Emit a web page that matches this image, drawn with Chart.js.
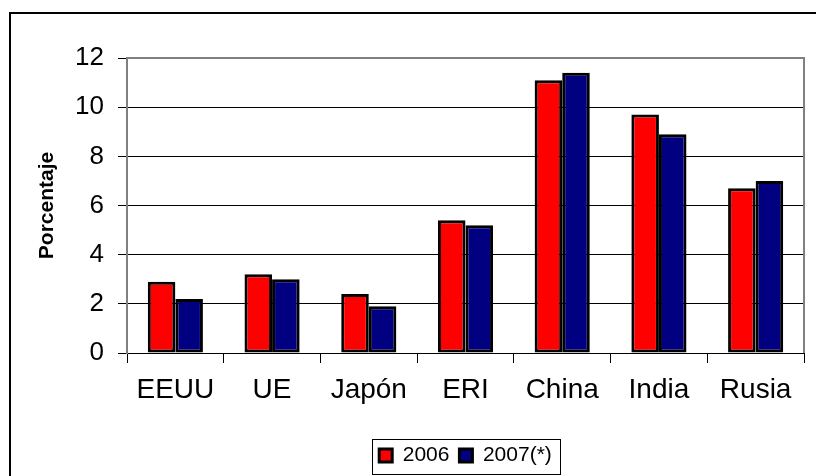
<!DOCTYPE html>
<html>
<head>
<meta charset="utf-8">
<script src="https://cdn.jsdelivr.net/npm/chart.js@4/dist/chart.umd.min.js"></script>
<style>
  html, body { margin: 0; padding: 0; background: #fff; }
  canvas { display: block; }
</style>
</head>
<body>
<canvas id="chart" width="816" height="476"></canvas>
<script>
const categories = ["EEUU", "UE", "Japón", "ERI", "China", "India", "Rusia"];
const values2006 = [2.9, 3.2, 2.4, 5.4, 11.1, 9.7, 6.7];
const values2007 = [2.2, 3.0, 1.9, 5.2, 11.4, 8.9, 7.0];
const seriesLabels = ["2006", "2007(*)"];
const yTicks = [0, 2, 4, 6, 8, 10, 12];

const FONT = "'Liberation Sans', Arial, sans-serif";

// outer frame, plot border and legend box (Excel look)
const framePlugin = {
  id: 'frame',
  beforeDraw(chart) {
    const ctx = chart.ctx;
    ctx.save();
    ctx.fillStyle = '#fff';
    ctx.fillRect(0, 0, chart.width, chart.height);
    ctx.strokeStyle = '#000';
    ctx.lineWidth = 2;
    ctx.beginPath();
    ctx.moveTo(10, chart.height);
    ctx.lineTo(10, 13);
    ctx.lineTo(chart.width, 13);
    ctx.stroke();
    ctx.restore();
  },
  afterDraw(chart) {
    const ctx = chart.ctx;
    const a = chart.chartArea;
    ctx.save();
    ctx.strokeStyle = '#808080';
    ctx.lineWidth = 2;
    ctx.beginPath();
    ctx.moveTo(a.left, a.top);
    ctx.lineTo(a.right, a.top);
    ctx.lineTo(a.right, a.bottom);
    ctx.stroke();
    const lg = chart.legend;
    const hb = lg.legendHitBoxes;
    if (hb && hb.length) {
      const l = hb[0].left - 7;
      const r = hb[hb.length - 1].left + hb[hb.length - 1].width + 8;
      ctx.strokeStyle = '#000';
      ctx.lineWidth = 1;
      ctx.strokeRect(Math.round(l) + 0.5, 439.5, Math.round(r - l), 35);
    }
    ctx.restore();
  }
};

new Chart(document.getElementById("chart"), {
  type: 'bar',
  data: {
    labels: categories,
    datasets: [{
      label: seriesLabels[0],
      data: values2006,
      backgroundColor: '#FF0000',
      borderColor: '#000',
      borderWidth: 3,
      borderSkipped: false,
      categoryPercentage: 0.57,
      barPercentage: 1.0
    }, {
      label: seriesLabels[1],
      data: values2007,
      backgroundColor: '#000080',
      borderColor: '#000',
      borderWidth: 3,
      borderSkipped: false,
      categoryPercentage: 0.57,
      barPercentage: 1.0
    }]
  },
  options: {
    responsive: false,
    animation: false,
    layout: { padding: { top: 58, right: 12, left: 0, bottom: 0 } },
    plugins: {
      tooltip: { enabled: false },
      legend: {
        position: 'bottom',
        fullSize: false,
        labels: {
          color: '#000',
          font: { family: FONT, size: 21 },
          boxWidth: 13,
          boxHeight: 13,
          padding: 10
        }
      }
    },
    scales: {
      x: {
        offset: true,
        grid: { offset: true, drawOnChartArea: false, tickLength: 10, tickColor: '#000' },
        border: { color: '#000', width: 1 },
        ticks: { color: '#000', font: { family: FONT, size: 28 }, padding: 10, maxRotation: 0 },
        afterFit(s) { s.height = 82; }
      },
      y: {
        min: 0,
        max: 12,
        afterBuildTicks(s) { s.ticks = yTicks.map(v => ({ value: v })); },
        grid: { color: '#000', lineWidth: 1, tickLength: 9, tickColor: '#000' },
        border: { color: '#808080', width: 2 },
        ticks: { color: '#000', font: { family: FONT, size: 26 }, padding: 14 },
        title: {
          display: true,
          text: 'Porcentaje',
          color: '#000',
          font: { family: FONT, size: 21, weight: 'bold' },
          padding: { top: 35, bottom: 0 }
        },
        afterFit(s) { s.width = 127; }
      }
    }
  },
  plugins: [framePlugin]
});
</script>
</body>
</html>
